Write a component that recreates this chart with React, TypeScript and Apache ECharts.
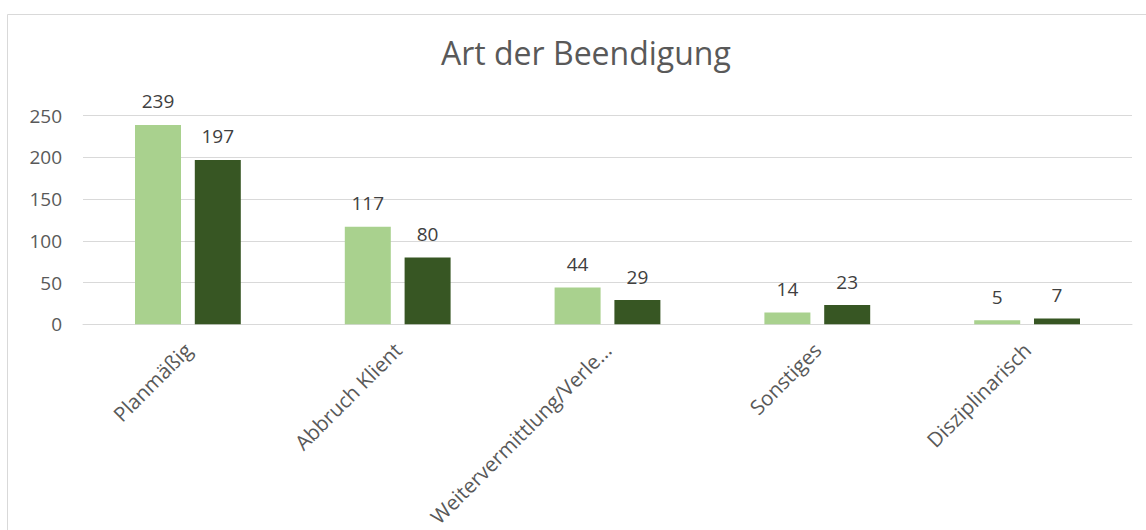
import React, { useEffect, useRef } from "react";
import * as echarts from "echarts";

const categories = ["Planmäßig", "Abbruch Klient", "Weitervermittlung/Verle...", "Sonstiges", "Disziplinarisch"];
const seriesA = [239, 117, 44, 14, 5];
const seriesB = [197, 80, 29, 23, 7];
const yTicks = { min: 0, max: 250, interval: 50 };
const titleText = "Art der Beendigung";

const FONT = "'Open Sans', 'Noto Sans', sans-serif";
const TXT = "#595959";

export default function App() {
  const ref = useRef<HTMLDivElement>(null);
  useEffect(() => {
    document.body.style.margin = "0";
    const chart = echarts.init(ref.current!, undefined, { renderer: "svg" });
    const label = {
      show: true,
      position: "top" as const,
      distance: 14,
      color: "#404040",
      fontSize: 19,
      fontFamily: FONT,
    };
    chart.setOption({
      animation: false,
      backgroundColor: "#ffffff",
      title: {
        text: titleText,
        left: 436,
        top: 31,
        textStyle: { color: TXT, fontSize: 32, fontWeight: "normal", fontFamily: FONT },
      },
      graphic: [
        {
          type: "rect",
          shape: { x: 7.5, y: 14.5, width: 1160, height: 530 },
          style: { fill: "none", stroke: "#d9d9d9", lineWidth: 1 },
          silent: true,
        },
      ],
      grid: { left: 83, right: 14, top: 115.7, bottom: 205.7, containLabel: false },
      xAxis: {
        type: "category",
        data: categories,
        axisLine: { show: true, lineStyle: { color: "#d9d9d9", width: 1 } },
        axisTick: { show: false },
        axisLabel: {
          rotate: 45,
          interval: 0,
          margin: 22,
          color: TXT,
          fontSize: 20.5,
          fontFamily: FONT,
        },
      },
      yAxis: {
        type: "value",
        min: yTicks.min,
        max: yTicks.max,
        interval: yTicks.interval,
        axisLine: { show: false },
        axisTick: { show: false },
        splitLine: { lineStyle: { color: "#d9d9d9", width: 1 } },
        axisLabel: { color: TXT, fontSize: 19, fontFamily: FONT, margin: 21 },
      },
      series: [
        {
          type: "bar",
          data: seriesA,
          barWidth: 46,
          barGap: "30%",
          itemStyle: { color: "#a9d18e" },
          label,
        },
        {
          type: "bar",
          data: seriesB,
          barWidth: 46,
          barGap: "30%",
          itemStyle: { color: "#375623" },
          label,
        },
      ],
    });
    return () => chart.dispose();
  }, []);
  return <div ref={ref} style={{ width: 1146, height: 530 }} />;
}
